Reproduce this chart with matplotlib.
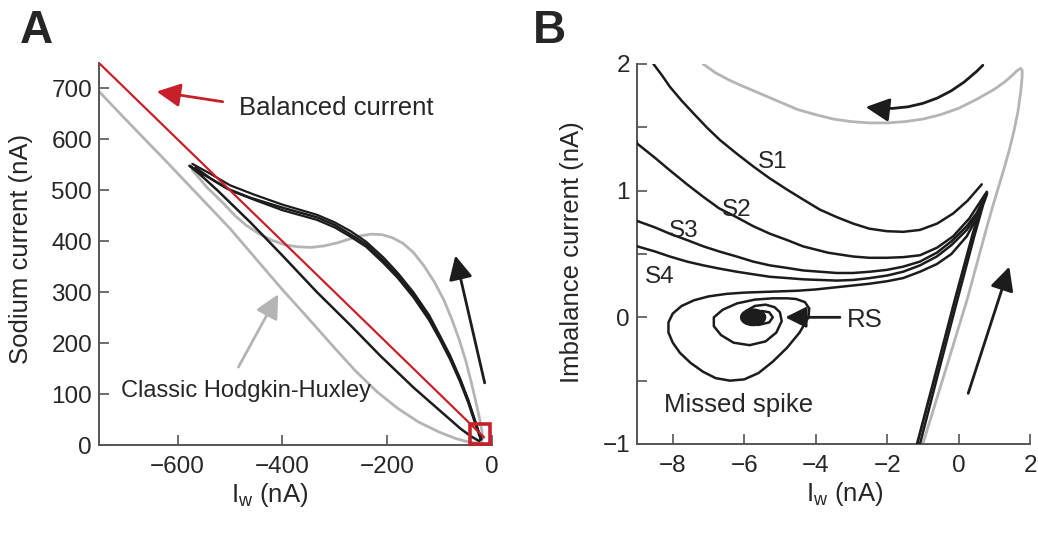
import matplotlib
matplotlib.use("Agg")
import matplotlib.pyplot as plt
from matplotlib.patches import Ellipse

plt.rcParams['font.family'] = ['Liberation Sans', 'DejaVu Sans']
plt.rcParams['mathtext.default'] = 'regular'
plt.rcParams['lines.solid_joinstyle'] = 'round'
plt.rcParams['lines.solid_capstyle'] = 'round'

TXT = '#262626'
SPINE = '#555555'
GRAY = '#b4b4b4'
RED = '#c8202a'
BLK = '#1c1c1c'

# ---- panel A data (nA) ----
balanced_x = [-750, -15]
balanced_y = [750, 15]

hh_x = [-760, -700, -620, -560, -500, -450, -400, -350, -300, -260, -220, -180, -140,
        -100, -70, -45, -28, -20, -18, -20, -25, -32, -40, -50, -62, -76, -92, -110,
        -130, -150, -170, -190, -210, -230, -250, -270, -295, -320, -345, -370, -395,
        -420, -445, -470, -490, -515, -545, -572]
hh_y = [705, 640, 555, 490, 425, 365, 305, 248, 190, 145, 105, 72, 45,
        25, 13, 6, 4, 6, 15, 32, 58, 90, 125, 165, 205, 245, 285, 320,
        352, 378, 396, 407, 413, 414, 411, 405, 397, 391, 388, 389, 393,
        402, 415, 432, 450, 477, 507, 540]

loop1_x = [-577, -545, -505, -460, -400, -334, -300, -271, -240, -207, -180, -150,
           -120, -99, -80, -61, -45, -29, -20,
           -25, -40, -60, -100, -150, -213, -270, -334, -400, -461, -524, -556, -577]
loop1_y = [548, 528, 503, 485, 466, 447, 432, 414, 394, 362, 333, 295,
           250, 210, 172, 128, 85, 35, 12,
           8, 17, 32, 68, 113, 175, 235, 300, 372, 437, 500, 530, 548]

loop2_x = [-572, -540, -500, -455, -400, -334, -300, -270, -240, -207, -180, -150,
           -120, -99, -80, -61, -45, -29, -22]
loop2_y = [552, 534, 510, 492, 472, 452, 437, 420, 399, 368, 338, 300,
           255, 214, 176, 131, 88, 38, 14]

loop3_x = [-566, -535, -495, -450, -400, -334, -300, -270, -240, -207, -180, -150,
           -120, -99, -80, -61, -45, -29, -22]
loop3_y = [545, 522, 498, 480, 461, 442, 427, 409, 389, 357, 328, 290,
           245, 206, 168, 124, 82, 32, 12]

square_x = [-23]
square_y = [22]

# ---- panel B data (nA) ----
gray_b_x = [-7.4, -7.15, -6.8, -6.4, -6.0, -5.5, -5.0, -4.5, -4.0, -3.5, -3.0, -2.5,
            -2.0, -1.5, -1.0, -0.5, 0.0, 0.5, 1.0, 1.3, 1.5, 1.65, 1.74, 1.78, 1.78,
            1.74, 1.66, 1.55, 1.42, 1.28, 1.12, 0.95, 0.75, 0.5, 0.24, -0.4, -1.0, -1.1]
gray_b_y = [2.12, 2.0, 1.93, 1.87, 1.82, 1.76, 1.7, 1.64, 1.6, 1.565, 1.545, 1.535,
            1.535, 1.545, 1.565, 1.6, 1.65, 1.72, 1.8, 1.86, 1.91, 1.95, 1.965, 1.95, 1.9,
            1.78, 1.62, 1.47, 1.32, 1.18, 1.03, 0.87, 0.67, 0.41, 0.14, -0.45, -1.0, -1.1]

s1_x = [-8.7, -8.54, -8.3, -8.08, -7.75, -7.42, -7.05, -6.68, -6.2, -5.74, -5.3, -4.81,
        -4.35, -3.88, -3.4, -2.95, -2.5, -2.01, -1.55, -1.08, -0.6, -0.15, 0.25, 0.65]
s1_y = [2.12, 2.0, 1.91, 1.82, 1.71, 1.61, 1.50, 1.40, 1.29, 1.19, 1.10, 1.01,
        0.93, 0.85, 0.79, 0.74, 0.70, 0.68, 0.675, 0.69, 0.74, 0.82, 0.92, 1.05]

s2_x = [-9.1, -8.99, -8.5, -8.08, -7.6, -7.14, -6.7, -6.21, -5.75, -5.28, -4.8, -4.35,
        -3.65, -2.95, -2.5, -2.01, -1.55, -1.08, -0.6, -0.15, 0.3, 0.74]
s2_y = [1.45, 1.37, 1.26, 1.16, 1.05, 0.95, 0.86, 0.79, 0.72, 0.66, 0.61, 0.56,
        0.51, 0.48, 0.47, 0.47, 0.475, 0.49, 0.55, 0.64, 0.78, 0.97]

s3_x = [-9.1, -8.99, -8.5, -8.08, -7.6, -7.14, -6.7, -6.21, -5.75, -5.28, -4.8, -4.35,
        -3.88, -3.41, -2.95, -2.48, -2.0, -1.55, -1.08, -0.61, -0.2, 0.23, 0.5, 0.74]
s3_y = [0.78, 0.76, 0.71, 0.66, 0.61, 0.56, 0.52, 0.48, 0.44, 0.41, 0.39, 0.37,
        0.36, 0.35, 0.35, 0.36, 0.375, 0.40, 0.44, 0.51, 0.60, 0.72, 0.82, 0.95]

s4_x = [-9.1, -8.99, -8.5, -8.08, -7.6, -7.14, -6.7, -6.21, -5.75, -5.28, -4.8, -4.35,
        -3.88, -3.41, -2.95, -2.48, -2.0, -1.55, -1.08, -0.61, -0.2, 0.23, 0.5, 0.74]
s4_y = [0.58, 0.56, 0.52, 0.48, 0.44, 0.41, 0.385, 0.36, 0.34, 0.32, 0.31, 0.30,
        0.295, 0.29, 0.295, 0.31, 0.33, 0.36, 0.41, 0.48, 0.57, 0.69, 0.80, 0.94]

spiral_x = [0.74, 0.5, 0.23, -0.2, -0.61, -1.08, -1.55, -2.0, -2.5, -3.0, -3.5, -4.0,
            -4.5, -5.0, -5.5, -6.0, -6.5, -7.0, -7.4, -7.75, -8.0, -8.12, -8.12, -8.0,
            -7.8, -7.5, -7.15, -6.8, -6.4, -6.0, -5.6, -5.2, -4.8, -4.45, -4.2, -4.18,
            -4.3, -4.55, -4.8, -5.2, -5.7, -6.2, -6.6, -6.85, -6.85, -6.65, -6.3, -5.85,
            -5.4, -5.1, -4.95, -5.0, -5.15, -5.4, -5.7, -5.95, -6.0, -5.9, -5.6, -5.3,
            -5.2, -5.3, -5.5, -5.7]
spiral_y = [0.93, 0.78, 0.64, 0.5, 0.42, 0.36, 0.31, 0.285, 0.265, 0.25, 0.235, 0.22,
            0.21, 0.205, 0.2, 0.195, 0.185, 0.165, 0.135, 0.09, 0.03, -0.04, -0.12, -0.2,
            -0.28, -0.36, -0.43, -0.48, -0.5, -0.49, -0.44, -0.35, -0.24, -0.12, 0.0, 0.07,
            0.12, 0.145, 0.15, 0.15, 0.14, 0.11, 0.06, 0.0, -0.07, -0.14, -0.2, -0.22,
            -0.19, -0.12, -0.03, 0.04, 0.08, 0.1, 0.09, 0.05, 0.0, -0.05, -0.06, -0.04,
            0.0, 0.04, 0.05, 0.02]

rise_x = [-1.16, -0.6, -0.1, 0.4, 0.68, 0.76, 0.79]
rise_y = [-1.0, -0.4, 0.14, 0.66, 0.92, 0.975, 0.99]
rise2_x = [-1.08, -0.55, -0.05, 0.44, 0.7, 0.78, 0.8]
rise2_y = [-1.0, -0.42, 0.12, 0.64, 0.9, 0.96, 0.98]

rest_x, rest_y = -5.75, 0.0
b_yticks = [-1, -0.5, 0, 0.5, 1, 1.5, 2]
b_yticklabels = ['\u22121', '', '0', '', '1', '', '2']
b_xticks = [-8, -6, -4, -2, 0, 2]

fig = plt.figure(figsize=(10.38, 5.4), dpi=100)


def style(ax):
    for s in ['top', 'right']:
        ax.spines[s].set_visible(False)
    for s in ['left', 'bottom']:
        ax.spines[s].set_color(SPINE)
        ax.spines[s].set_linewidth(1.4)
    ax.tick_params(direction='in', length=7.5, width=1.2, color=SPINE,
                   labelsize=17.5, labelcolor=TXT)
    ax.tick_params(axis='y', pad=5)
    ax.tick_params(axis='x', pad=8)


def arrow(ax, tail, head, color, ms=36, rad=None):
    props = dict(arrowstyle='-|>', color=color, lw=2, mutation_scale=ms,
                 shrinkA=0, shrinkB=0)
    if rad is not None:
        props['connectionstyle'] = 'arc3,rad=%s' % rad
    ax.annotate('', xy=head, xytext=tail, arrowprops=props)


# ---------------- panel A ----------------
axA = fig.add_axes([0.0954, 0.1759, 0.3786, 0.7074])
style(axA)
axA.plot(hh_x, hh_y, color=GRAY, lw=2.0, zorder=2)
axA.plot(loop1_x, loop1_y, color=BLK, lw=1.8, zorder=3)
axA.plot(loop2_x, loop2_y, color=BLK, lw=1.6, zorder=3)
axA.plot(loop3_x, loop3_y, color=BLK, lw=1.6, zorder=3)
axA.plot(balanced_x, balanced_y, color=RED, lw=1.6, zorder=4)
axA.plot(square_x, square_y, marker='s', ms=15, mfc='none', mec=RED, mew=2.6,
         zorder=5, clip_on=False)
axA.set_xlim(-750, 0)
axA.set_ylim(0, 750)
axA.set_xticks([-600, -400, -200, 0])
axA.set_yticks(range(0, 701, 100))
axA.set_xlabel('I$_\\mathregular{w}$ (nA)', fontsize=18.5, color=TXT)
axA.set_ylabel('Sodium current (nA)', fontsize=18.5, color=TXT)
axA.xaxis.set_label_coords(0.435, -0.094)
axA.yaxis.set_label_coords(-0.168, 0.513)

arrow(axA, (-514, 674), (-640, 694), RED)
axA.text(-297, 662, 'Balanced current', fontsize=18.5, color=TXT,
         ha='center', va='center')
arrow(axA, (-484, 153), (-408, 296), GRAY)
axA.text(-470, 106, 'Classic Hodgkin-Huxley', fontsize=17, color=TXT,
         ha='center', va='center')
arrow(axA, (-14, 122), (-70, 372), BLK)

fig.text(20 / 1038, 1 - 43 / 540, 'A', fontsize=33, fontweight='bold',
         color=TXT, ha='left', va='baseline')

# ---------------- panel B ----------------
axB = fig.add_axes([0.6137, 0.1778, 0.3786, 0.7037])
style(axB)
axB.plot(gray_b_x, gray_b_y, color=GRAY, lw=2.0, zorder=2)
for xs, ys in [(s1_x, s1_y), (s2_x, s2_y), (s3_x, s3_y), (s4_x, s4_y)]:
    axB.plot(xs, ys, color=BLK, lw=1.8, zorder=3)
axB.plot(spiral_x, spiral_y, color=BLK, lw=1.8, zorder=3)
axB.plot(rise_x, rise_y, color=BLK, lw=2.0, zorder=3)
axB.plot(rise2_x, rise2_y, color=BLK, lw=1.8, zorder=3)
axB.add_patch(Ellipse((rest_x, rest_y), 0.7, 0.13, color=BLK, zorder=4))
axB.set_xlim(-9, 2)
axB.set_ylim(-1, 2)
axB.set_xticks(b_xticks)
axB.set_yticks(b_yticks)
axB.set_yticklabels(b_yticklabels)
axB.set_xlabel('I$_\\mathregular{w}$ (nA)', fontsize=18.5, color=TXT)
axB.set_ylabel('Imbalance current (nA)', fontsize=18.5, color=TXT)
axB.xaxis.set_label_coords(0.529, -0.095)
axB.yaxis.set_label_coords(-0.135, 0.505)

arrow(axB, (0.68, 1.99), (-2.6, 1.66), BLK, rad=-0.25)
arrow(axB, (0.27, -0.6), (1.42, 0.4), BLK)
arrow(axB, (-3.32, 0.0), (-4.85, 0.0), BLK, ms=32)
axB.text(-3.12, -0.02, 'RS', fontsize=18.5, color=TXT, ha='left', va='center')
axB.text(-5.2, 1.23, 'S1', fontsize=17.5, color=TXT, ha='center', va='center')
axB.text(-6.2, 0.85, 'S2', fontsize=17.5, color=TXT, ha='center', va='center')
axB.text(-7.7, 0.68, 'S3', fontsize=17.5, color=TXT, ha='center', va='center')
axB.text(-8.36, 0.32, 'S4', fontsize=17.5, color=TXT, ha='center', va='center')
axB.text(-6.17, -0.69, 'Missed spike', fontsize=18.5, color=TXT,
         ha='center', va='center')

fig.text(533 / 1038, 1 - 43 / 540, 'B', fontsize=33, fontweight='bold',
         color=TXT, ha='left', va='baseline')

fig.savefig('out.png', dpi=100)
